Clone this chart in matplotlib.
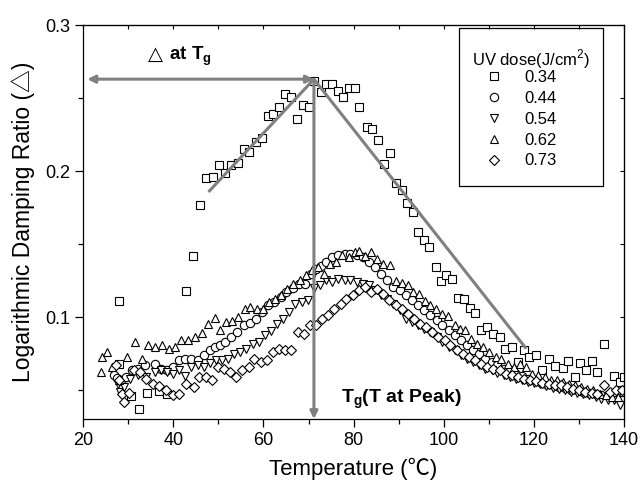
import matplotlib
matplotlib.use("Agg")
import matplotlib.pyplot as plt
from matplotlib.ticker import MultipleLocator
from matplotlib.patches import Rectangle

plt.rcParams['font.family'] = ['Liberation Sans', 'Noto Sans CJK SC', 'DejaVu Sans']
plt.rcParams['mathtext.fontset'] = 'custom'
plt.rcParams['mathtext.rm'] = 'Liberation Sans'
plt.rcParams['mathtext.bf'] = 'Liberation Sans:bold'

# ---- data ----
doses = ['0.34', '0.44', '0.54', '0.62', '0.73']
legend_title = 'UV dose(J/cm$^2$)'

T_034 = [28.0, 28.0, 30.7, 32.4, 34.1, 36.9, 38.6, 42.9, 44.4, 46.0, 47.3, 48.7, 50.2, 51.5, 52.8, 54.3,
         55.6, 56.9, 58.3, 59.6, 60.9, 62.2, 63.5, 64.8, 66.1, 67.4, 68.7, 70.0, 71.3, 72.7, 73.8,
         75.2, 76.5, 77.7, 78.9, 80.2, 81.1, 83.0, 84.1, 85.5, 86.8, 88.1, 89.3, 90.7, 91.8, 93.2,
         94.3, 95.6, 96.8, 98.2, 99.3, 100.6, 101.8, 103.2, 104.5, 105.9, 107.0, 108.3, 109.5,
         111.0, 112.4, 113.7, 115.1, 116.5, 117.8, 119.0, 120.5, 121.9, 123.3, 124.6, 126.4,
         127.6, 129.1, 130.2, 131.6, 132.8, 134.1, 135.5, 137.8, 139.1, 140.0]
v_034 = [0.111, 0.068, 0.0458, 0.0369, 0.048, 0.0493, 0.0474, 0.1179, 0.1418, 0.177, 0.195, 0.196,
         0.204, 0.199, 0.204, 0.2055, 0.215, 0.213, 0.220, 0.223, 0.238, 0.239, 0.244, 0.253, 0.2505,
         0.2355, 0.245, 0.244, 0.262, 0.254, 0.260, 0.260, 0.2547, 0.251, 0.257, 0.257, 0.244,
         0.230, 0.2285, 0.221, 0.205, 0.2125, 0.192, 0.187, 0.178, 0.172, 0.158, 0.1526, 0.148,
         0.134, 0.125, 0.1286, 0.126, 0.113, 0.112, 0.1064, 0.1027, 0.0909, 0.0931, 0.0886,
         0.0863, 0.0783, 0.0794, 0.069, 0.0776, 0.0726, 0.0737, 0.0639, 0.0714, 0.0664, 0.0653,
         0.0696, 0.0589, 0.0685, 0.0639, 0.0696, 0.0623, 0.0817, 0.0593, 0.0554, 0.059]

T_044 = [26.8, 27.6, 28.4, 29.5, 30.9, 32.2, 33.8, 35.9, 37.2, 38.6, 39.9, 41.3, 42.6, 44.0, 45.4,
         46.7, 48.1, 49.3, 50.3, 51.5, 52.9, 54.2, 55.6, 57.0, 58.3, 59.7, 61.0, 62.4, 63.8, 65.1,
         66.5, 67.8, 69.2, 70.5, 71.6, 72.8, 73.9, 75.3, 76.6, 78.0, 79.3, 80.7, 82.0, 83.4, 84.8,
         86.1, 87.5, 88.8, 90.2, 91.6, 92.9, 94.3, 95.6, 97.0, 98.4, 99.7, 101.1, 102.4, 103.8,
         105.1, 106.5, 107.9, 109.2, 110.6, 111.9, 113.3, 114.7, 116.0, 117.4, 118.7, 120.1, 121.4,
         122.8, 124.2, 125.5, 126.9, 128.2, 129.6, 131.0, 132.3, 133.7, 135.0, 136.4, 137.8, 139.1]
v_044 = [0.060, 0.058, 0.0566, 0.0589, 0.0634, 0.0646, 0.0669, 0.068, 0.0646, 0.0634, 0.0657, 0.0703,
         0.0714, 0.0714, 0.0707, 0.0737, 0.0771, 0.0794, 0.081, 0.0829, 0.0863, 0.0897, 0.0943,
         0.0959, 0.0989, 0.1034, 0.108, 0.1103, 0.1137, 0.1171, 0.1201, 0.1224, 0.1229, 0.1297,
         0.1331, 0.135, 0.1377, 0.1411, 0.1423, 0.1434, 0.1434, 0.1423, 0.1411, 0.1377, 0.1343,
         0.1297, 0.1251, 0.1206, 0.1183, 0.1149, 0.1114, 0.108, 0.1046, 0.1011, 0.0977, 0.0943,
         0.0909, 0.0874, 0.084, 0.0806, 0.0771, 0.0749, 0.0714, 0.0691, 0.0669, 0.0646, 0.0634,
         0.0611, 0.0593, 0.0577, 0.0566, 0.0554, 0.0543, 0.0531, 0.052, 0.0513, 0.0502, 0.0497,
         0.0486, 0.0479, 0.0474, 0.0467, 0.0463, 0.0474, 0.0486]

T_054 = [27.7, 28.2, 29.0, 30.4, 32.2, 34.0, 35.9, 37.2, 38.6, 39.9, 41.3, 42.6, 44.0, 45.4, 46.7,
         48.1, 49.4, 50.8, 52.2, 53.5, 54.9, 56.2, 57.6, 58.9, 60.3, 61.7, 63.0, 64.4, 65.7, 67.1,
         68.5, 69.8, 71.2, 72.5, 73.9, 75.3, 76.6, 78.0, 79.3, 80.7, 82.0, 83.4, 84.8, 86.1, 87.5,
         88.8, 90.2, 91.6, 92.9, 94.3, 95.6, 97.0, 98.4, 99.7, 101.1, 102.4, 103.8, 105.1, 106.5,
         107.9, 109.2, 110.6, 111.9, 113.3, 114.7, 116.0, 117.4, 118.7, 120.1, 121.4, 122.8, 124.2,
         125.5, 126.9, 128.2, 129.6, 131.0, 132.3, 133.7, 135.0, 136.4, 137.8, 139.1]
v_054 = [0.0543, 0.0486, 0.052, 0.0577, 0.060, 0.0589, 0.0623, 0.0634, 0.0623, 0.0611, 0.0639, 0.0593,
         0.0657, 0.0669, 0.0657, 0.0685, 0.0703, 0.0703, 0.0714, 0.0749, 0.076, 0.0783, 0.0817,
         0.0829, 0.0874, 0.0902, 0.0954, 0.0989, 0.1034, 0.1091, 0.1103, 0.1114, 0.1201, 0.1217,
         0.1251, 0.124, 0.1263, 0.1251, 0.1251, 0.124, 0.1229, 0.1217, 0.1183, 0.1149, 0.1126,
         0.1091, 0.1046, 0.0989, 0.0966, 0.0943, 0.092, 0.0897, 0.0863, 0.0829, 0.0794, 0.0771,
         0.0737, 0.0714, 0.0691, 0.0669, 0.0646, 0.0634, 0.0616, 0.060, 0.0589, 0.0577, 0.0566,
         0.0554, 0.0547, 0.0538, 0.0525, 0.0515, 0.0509, 0.0497, 0.0486, 0.0479, 0.047, 0.0463,
         0.0451, 0.044, 0.0433, 0.0429, 0.0394]

T_062 = [24.0, 24.2, 25.3, 26.4, 28.0, 29.8, 31.6, 33.0, 34.3, 35.9, 37.5, 39.0, 40.4, 41.7, 43.3,
         44.7, 46.3, 47.6, 49.3, 50.3, 51.7, 53.1, 54.4, 55.8, 57.1, 58.5, 59.9, 61.2, 62.6, 63.9,
         65.3, 66.6, 68.0, 69.4, 70.7, 72.1, 73.4, 74.8, 76.2, 77.5, 78.9, 80.2, 81.1, 82.5, 83.9,
         85.2, 86.6, 88.1, 89.3, 90.7, 92.0, 93.1, 94.5, 95.8, 97.0, 98.2, 99.7, 101.0, 102.4,
         103.5, 104.7, 106.0, 107.4, 108.8, 110.1, 111.5, 112.8, 114.2, 115.6, 116.9, 118.3, 119.6,
         121.0, 122.4, 123.7, 125.1, 126.4, 127.8, 129.1, 130.5, 131.9, 133.2, 134.6, 136.0, 137.3,
         138.7, 139.8]
v_062 = [0.062, 0.0726, 0.076, 0.0657, 0.057, 0.0726, 0.083, 0.0714, 0.081, 0.0794, 0.0806, 0.0778,
         0.0794, 0.084, 0.084, 0.0863, 0.089, 0.0954, 0.0993, 0.0913, 0.0966, 0.0973, 0.100, 0.1057,
         0.1069, 0.1057, 0.1057, 0.1103, 0.1126, 0.1149, 0.1194, 0.1229, 0.1251, 0.1286, 0.132,
         0.1343, 0.1297, 0.1366, 0.1377, 0.1427, 0.1411, 0.1446, 0.1453, 0.1416, 0.1446, 0.140,
         0.1366, 0.1354, 0.125, 0.123, 0.1217, 0.117, 0.116, 0.111, 0.108, 0.1057, 0.1023, 0.101,
         0.0943, 0.092, 0.0909, 0.085, 0.0817, 0.0794, 0.076, 0.0726, 0.0714, 0.068, 0.0657, 0.068,
         0.066, 0.0611, 0.060, 0.0589, 0.0566, 0.0566, 0.0554, 0.0543, 0.0531, 0.052, 0.0509,
         0.0497, 0.0474, 0.0463, 0.0451, 0.0451, 0.0486]

T_073 = [27.2, 28.0, 28.6, 29.0, 30.2, 31.3, 32.5, 33.9, 35.4, 36.8, 38.4, 39.9, 41.3, 42.9, 44.5,
         45.8, 47.2, 48.5, 49.9, 51.3, 52.6, 54.0, 55.3, 56.7, 58.0, 59.4, 60.8, 62.1, 63.5, 64.8,
         66.2, 67.6, 68.9, 70.3, 71.6, 73.0, 74.3, 75.7, 77.1, 78.4, 79.8, 81.1, 82.5, 83.9, 85.2,
         86.6, 87.9, 89.3, 90.7, 92.0, 93.4, 94.7, 96.1, 97.4, 98.8, 100.2, 101.5, 102.9, 104.2,
         105.6, 107.0, 108.3, 109.7, 111.0, 112.4, 113.8, 115.1, 116.5, 117.8, 119.2, 120.5, 121.9,
         123.3, 124.6, 126.0, 127.3, 128.7, 130.1, 131.4, 132.8, 134.1, 135.5, 136.8, 138.2, 139.6]
v_073 = [0.0669, 0.0566, 0.0474, 0.0417, 0.0479, 0.0634, 0.0623, 0.0577, 0.0543, 0.0525, 0.0497,
         0.0463, 0.0474, 0.0543, 0.052, 0.0589, 0.0589, 0.0566, 0.0657, 0.0646, 0.0623, 0.0589,
         0.0634, 0.0657, 0.0714, 0.0691, 0.0703, 0.076, 0.0783, 0.0771, 0.0771, 0.0897, 0.0886,
         0.0943, 0.0943, 0.0989, 0.1011, 0.1057, 0.1091, 0.1126, 0.1149, 0.1183, 0.1206, 0.1171,
         0.1194, 0.116, 0.1114, 0.108, 0.1057, 0.1023, 0.0989, 0.0954, 0.0931, 0.0897, 0.0863,
         0.084, 0.0806, 0.0771, 0.0749, 0.0726, 0.0703, 0.068, 0.0657, 0.0646, 0.0634, 0.0611,
         0.060, 0.0589, 0.0577, 0.0566, 0.0559, 0.0547, 0.0543, 0.0531, 0.0531, 0.052, 0.0509,
         0.0497, 0.0486, 0.0479, 0.0474, 0.0531, 0.0486, 0.0497, 0.0497]

series_T = [T_034, T_044, T_054, T_062, T_073]
series_v = [v_034, v_044, v_054, v_062, v_073]
markers = ['s', 'o', 'v', '^', 'D']
marker_sizes = [5.3, 6.0, 6.3, 6.3, 5.0]

# annotation geometry (Tg construction)
peak_T, peak_v = 71.2, 0.263
arrow_left_T = 20.9
rise_start = (47.8, 0.1857)
fall_end = (118.3, 0.0783)

# ---- figure ----
fig = plt.figure(figsize=(6.4, 4.84), dpi=100)
ax = fig.add_axes([0.130, 0.134, 0.845, 0.814])

handles = []
for T, v, m, ms, lab in zip(series_T, series_v, markers, marker_sizes, doses):
    h, = ax.plot(T, v, linestyle='none', marker=m, markersize=ms, markerfacecolor='white',
                 markeredgecolor='black', markeredgewidth=0.8, label=lab)
    handles.append(h)

gray = '#808080'
lw = 2.2
ax.plot([rise_start[0], peak_T], [rise_start[1], peak_v], color=gray, lw=lw, zorder=5,
        solid_capstyle='butt')
ax.plot([peak_T, fall_end[0]], [peak_v, fall_end[1]], color=gray, lw=lw, zorder=5,
        solid_capstyle='butt')
ax.annotate('', xy=(arrow_left_T, peak_v), xytext=(peak_T, peak_v),
            arrowprops=dict(arrowstyle='<|-|>', color=gray, lw=lw, mutation_scale=11,
                            shrinkA=0, shrinkB=0), zorder=5)
ax.annotate('', xy=(peak_T, 0.03), xytext=(peak_T, peak_v),
            arrowprops=dict(arrowstyle='-|>', color=gray, lw=lw, mutation_scale=11,
                            shrinkA=0, shrinkB=0), zorder=5)

# "△ at Tg" label
ax.text(37.6, 0.2762, '△', fontsize=14, fontweight='bold', ha='right', va='baseline',
        family=['DejaVu Sans'])
ax.text(37.9, 0.2762, ' at $\\mathbf{T_g}$', fontsize=13.5, fontweight='bold',
        ha='left', va='baseline')
# "Tg(T at Peak)" label
ax.text(77.3, 0.0412, '$\\mathbf{T_g}$(T at Peak)', fontsize=14, fontweight='bold',
        ha='left', va='baseline')

ax.set_xlim(20, 140)
ax.set_ylim(0.03, 0.3)
ax.xaxis.set_major_locator(MultipleLocator(20))
ax.xaxis.set_minor_locator(MultipleLocator(10))
ax.yaxis.set_minor_locator(MultipleLocator(0.05))
ax.set_yticks([0.1, 0.2, 0.3])
ax.set_yticklabels(['0.1', '0.2', '0.3'])

ax.tick_params(which='both', direction='out', bottom=True, left=True, top=False, right=False,
               labelsize=13, colors='black')
ax.tick_params(which='major', length=6, width=0.9)
ax.tick_params(which='minor', length=3.5, width=0.9)
ax2 = ax.secondary_xaxis('top')
ax2.xaxis.set_major_locator(MultipleLocator(10))
ax2.tick_params(direction='in', length=3, width=0.8, labeltop=False)
ax3 = ax.secondary_yaxis('right')
ax3.yaxis.set_major_locator(MultipleLocator(0.05))
ax3.tick_params(direction='in', length=3, width=0.8, labelright=False)

for sp in ax.spines.values():
    sp.set_linewidth(0.9)

ax.set_xlabel('Temperature (℃)', fontsize=16, labelpad=6)
ax.set_ylabel('Logarithmic Damping Ratio (△)', fontsize=16.5, labelpad=7)

# legend: entries, title and box placed separately
leg = ax.legend(handles=handles, loc='center', bbox_to_anchor=(0.806, 0.7614),
                fontsize=12, frameon=False, labelspacing=0.35, handletextpad=1.05,
                borderpad=0.0, handlelength=1.5)
ax.text(0.828, 0.9137, legend_title, transform=ax.transAxes, fontsize=12,
        ha='center', va='center', zorder=6)
ax.add_patch(Rectangle((0.6956, 0.591), 0.265, 0.401, transform=ax.transAxes,
                       facecolor='none', edgecolor='black', lw=0.9, zorder=6))

fig.savefig('out.png', dpi=100)
